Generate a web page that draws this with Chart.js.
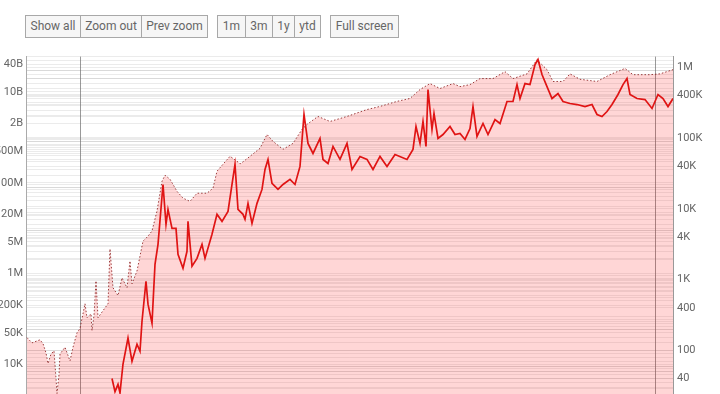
<!DOCTYPE html>
<html>
<head>
<meta charset="utf-8">
<script src="https://cdn.jsdelivr.net/npm/chart.js@4/dist/chart.umd.min.js"></script>
<style>
  body { margin: 0; background: #fff; font-family: Roboto, sans-serif; overflow: hidden; }
  .btn { position: absolute; top: 15px; height: 23px; line-height: 21px; box-sizing: border-box;
         border: 1px solid #a8a8a8; background: #f6f6f6; color: #666; font-size: 12px; text-align: center; }
  #chart { position: absolute; left: 0; top: 46px; }
</style>
</head>
<body>
<div class="btn" style="left:25px;width:56px">Show all</div>
<div class="btn" style="left:80px;width:62px">Zoom out</div>
<div class="btn" style="left:141px;width:67px">Prev zoom</div>
<div class="btn" style="left:217px;width:29px">1m</div>
<div class="btn" style="left:245px;width:28px">3m</div>
<div class="btn" style="left:272px;width:23px">1y</div>
<div class="btn" style="left:294px;width:27px">ytd</div>
<div class="btn" style="left:330px;width:69px">Full screen</div>
<canvas id="chart" width="720" height="359"></canvas>
<script>
// weeks since start of the series
const capWeeks = [1,6,14,17,20,22,25,28,30,31,33,34,39,44,47,51,54,59,61,65,66,68,70,72,77,82,84,87,92,96,101,104,106,111,117,122,126,131,136,139,144,151,157,164,171,181,187,191,197,204,211,214,217,224,234,241,247,257,267,276,281,292,304,321,341,354,371,384,394,404,414,427,434,444,454,467,479,487,501,511,521,527,537,544,554,571,584,599,607,624,634,647];
const capValues = [39e3,30e3,35e3,29e3,18e3,10.5e3,17e3,20e3,5e3,2.3e3,6e3,17e3,24e3,12e3,24e3,50e3,62e3,218e3,107e3,131e3,56e3,120e3,695e3,107e3,153e3,218e3,3.5e6,490e3,330e3,810e3,490e3,1.9e6,600e3,1.15e6,5.2e6,6.7e6,8.7e6,24e6,108e6,147e6,120e6,65e6,46e6,39e6,59e6,59e6,76e6,180e6,256e6,383e6,298e6,260e6,290e6,383e6,574e6,1.16e9,817e6,546e6,738e6,1.5e9,1.93e9,2.89e9,2.24e9,2.89e9,4.1e9,4.8e9,6.2e9,7.2e9,11.3e9,15.3e9,11.9e9,15.3e9,13.1e9,14.5e9,19.7e9,19.7e9,28e9,19.7e9,25e9,51e9,31e9,17e9,17e9,25e9,19e9,17e9,24e9,33e9,24e9,24e9,25e9,31e9];

const priceWeeks = [86,89,92,94,97,102,106,111,114,116,120,122,126,129,132,137,140,142,146,150,152,157,161,162,166,171,176,179,186,191,196,202,206,209,212,217,219,222,226,231,236,239,242,246,252,257,264,269,274,278,282,287,294,297,302,307,314,321,326,334,341,347,354,361,369,381,387,390,394,397,400,402,406,408,412,417,424,429,434,439,444,447,451,457,462,469,474,481,487,491,494,499,504,509,512,516,521,526,532,537,544,551,559,566,571,576,581,586,592,597,601,604,611,619,626,632,637,642,647];
const priceValues = [40,26,33,25,64,149,70,122,97,258,949,450,242,1650,3160,22200,6050,9860,5320,5320,2290,1450,2520,6680,1550,2000,3160,2000,4380,8390,6680,9250,22200,42600,9860,8390,7130,12000,6260,12000,18900,36200,50200,23000,18900,22200,26200,22200,40000,217000,84500,61000,99400,50200,44000,76600,50200,84500,36200,55300,50200,36200,55300,40000,59000,50200,69500,147000,84500,173000,76600,489000,133000,224000,99400,113000,147000,113000,117000,96200,137000,281000,106000,162000,113000,184000,162000,331000,331000,575000,365000,594000,575000,1.1e6,1.3e6,796000,539000,365000,430000,331000,310000,300000,281000,300000,217000,203000,239000,300000,416000,575000,700000,416000,365000,353000,264000,416000,365000,281000,365000];

const leftTicks = [4e10,1e10,2e9,5e8,1e8,2e7,5e6,1e6,2e5,5e4,1e4,2e3];
const leftLabels = ['40B','10B','2B','500M','100M','20M','5M','1M','200K','50K','10K','2K'];
const rightTicks = [1e6,4e5,1e5,4e4,1e4,4e3,1e3,400,100,40];
const rightLabels = ['1M','400K','100K','40K','10K','4K','1K','400','100','40'];

const markerWeeks = [54, 629];

function zip(xs, ys) {
  return xs.map((x, i) => ({ x: x, y: ys[i] }));
}

// every 1..9 x 10^n inside the axis range, so the grid is drawn like a log grid
function logTicks(scale) {
  let out = [];
  for (let n = 0; n <= 11; n++) {
    for (let k = 1; k <= 9; k++) {
      let v = k * Math.pow(10, n);
      if (v >= scale.min && v <= scale.max) out.push({ value: v });
    }
  }
  scale.ticks = out;
}

function labelFor(ticks, labels) {
  return function (v) {
    for (let i = 0; i < ticks.length; i++) {
      if (Math.abs(v / ticks[i] - 1) < 1e-6) return labels[i];
    }
    return '';
  };
}

const markers = {
  id: 'markers',
  beforeDatasetsDraw(chart) {
    const c = chart.ctx, a = chart.chartArea, xs = chart.scales.x;
    c.save();
    c.strokeStyle = 'rgba(110,110,110,0.7)';
    c.lineWidth = 1;
    markerWeeks.forEach(w => {
      const px = Math.round(xs.getPixelForValue(w)) + 0.5;
      c.beginPath();
      c.moveTo(px, a.top);
      c.lineTo(px, a.bottom);
      c.stroke();
    });
    c.restore();
  }
};

const tickFont = { family: 'Roboto', size: 11 };

new Chart(document.getElementById('chart'), {
  type: 'line',
  data: {
    datasets: [{
      data: zip(priceWeeks, priceValues),
      yAxisID: 'yR',
      borderColor: '#e01414',
      borderWidth: 1.7,
      pointRadius: 0,
      fill: false,
      tension: 0
    }, {
      data: zip(capWeeks, capValues),
      yAxisID: 'yL',
      borderColor: 'rgba(140,30,30,0.85)',
      borderWidth: 1,
      borderDash: [1.5, 2],
      backgroundColor: 'rgba(255,0,0,0.16)',
      pointRadius: 0,
      fill: 'start',
      tension: 0
    }]
  },
  options: {
    responsive: false,
    animation: false,
    layout: { padding: { top: 7, bottom: 0, left: 0, right: 0 } },
    plugins: { legend: { display: false }, tooltip: { enabled: false } },
    scales: {
      x: { type: 'linear', min: 0, max: 647, display: false },
      yL: {
        type: 'logarithmic', position: 'left', min: 2200, max: 6e10, bounds: 'data',
        afterBuildTicks: logTicks,
        afterFit: s => { s.width = 26; },
        grid: { color: 'rgba(0,0,0,0.08)', drawTicks: false },
        border: { color: '#aaa' },
        ticks: { autoSkip: false, padding: 3, color: '#666', font: tickFont,
                 callback: labelFor(leftTicks, leftLabels) }
      },
      yR: {
        type: 'logarithmic', position: 'right', min: 23.8, max: 1.43e6, bounds: 'data',
        afterBuildTicks: logTicks,
        afterFit: s => { s.width = 47; },
        grid: { color: 'rgba(0,0,0,0.08)', drawTicks: false },
        border: { color: '#999' },
        ticks: { autoSkip: false, padding: 4, color: '#666', font: tickFont,
                 callback: labelFor(rightTicks, rightLabels) }
      }
    }
  },
  plugins: [markers]
});
</script>
</body>
</html>
